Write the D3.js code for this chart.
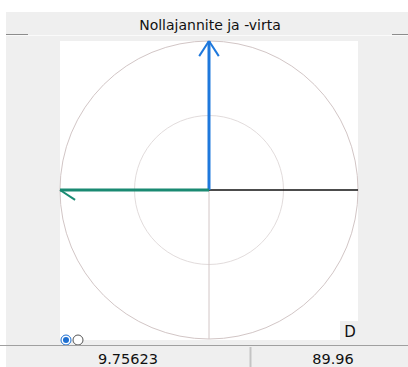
<!DOCTYPE html>
<html>
<head>
<meta charset="utf-8">
<script src="https://cdn.jsdelivr.net/npm/d3@7"></script>
<style>
  html, body { margin: 0; padding: 0; background: #fff; }
  svg { display: block; }
</style>
</head>
<body>
<svg id="chart" width="408" height="367"></svg>
<script>
let title = 'Nollajannite ja -virta';
// phasors: angle in degrees, magnitude as share of full scale
let phasor_names = ['U0', 'I0'];
let phasor_angles = [90, 180];
let phasor_mags = [1, 1];
let phasor_colors = ['#1e78dc', '#1a8a72'];
let ring_levels = [0.5, 1];
let readouts = ['9.75623', '89.96'];
let quadrant_label = 'D';

let panel_bg = '#efefef';
let center = {x: 209, y: 190};
let max_r = 149;

let svg = d3.select('#chart');

let r_scale = d3.scaleLinear()
  .domain([0, 1])
  .range([0, max_r]);

// gray panel
svg.append('rect')
  .attr('x', 6).attr('y', 12)
  .attr('width', 402).attr('height', 355)
  .attr('fill', panel_bg);

// title band separator
svg.append('line')
  .attr('x1', 6).attr('x2', 408)
  .attr('y1', 35.5).attr('y2', 35.5)
  .attr('stroke', '#fafafa');
[[6, 28], [392, 408]].forEach(s => {
  svg.append('line')
    .attr('x1', s[0]).attr('x2', s[1])
    .attr('y1', 34.5).attr('y2', 34.5)
    .attr('stroke', '#8c8c8c');
});

svg.append('text')
  .attr('x', 210)
  .attr('y', 30)
  .style('font-family', 'DejaVu Sans')
  .style('font-size', '14px')
  .style('text-anchor', 'middle')
  .style('fill', '#111')
  .text(title);

// white plot area
svg.append('rect')
  .attr('x', 60).attr('y', 41)
  .attr('width', 298).attr('height', 299)
  .attr('fill', '#fff');

let plot = svg.append('g')
  .attr('transform', `translate(${center.x},${center.y})`);

plot.selectAll('.ring')
  .data(ring_levels)
  .enter().append('circle')
  .attr('class', 'ring')
  .attr('r', d => r_scale(d))
  .attr('fill', 'none')
  .attr('stroke', (d, i) => i == ring_levels.length - 1 ? '#d2c6c6' : '#e2dcdc')
  .attr('stroke-width', 1);

// reference axis down
plot.append('line')
  .attr('x1', 0).attr('x2', 0)
  .attr('y1', 0).attr('y2', r_scale(1))
  .attr('stroke', '#d2c6c6');

// reference axis right
plot.append('line')
  .attr('x1', 0).attr('x2', r_scale(1))
  .attr('y1', 0).attr('y2', 0)
  .attr('stroke', '#111')
  .attr('stroke-width', 1.3);

// phasors
let phasors = phasor_names.map((n, i) => ({
  name: n, angle: phasor_angles[i], mag: phasor_mags[i], color: phasor_colors[i]
}));

let px = d => r_scale(d.mag) * Math.cos(d.angle * Math.PI / 180);
let py = d => -r_scale(d.mag) * Math.sin(d.angle * Math.PI / 180);

plot.selectAll('.phasor')
  .data(phasors)
  .enter().append('line')
  .attr('class', 'phasor')
  .attr('x1', 0).attr('y1', 0)
  .attr('x2', d => px(d)).attr('y2', d => py(d))
  .attr('stroke', d => d.color)
  .attr('stroke-width', 3);

// arrow heads: blue has both barbs, green only the lower one
let head_len = 18, head_ang = 33;
phasors.forEach((d, i) => {
  let tip = [px(d), py(d)];
  let back = (d.angle + 180) * Math.PI / 180;
  let sides = i == 0 ? [-1, 1] : [-1];
  sides.forEach(s => {
    let a = back + s * head_ang * Math.PI / 180;
    plot.append('line')
      .attr('x1', tip[0]).attr('y1', tip[1])
      .attr('x2', tip[0] + head_len * Math.cos(a))
      .attr('y2', tip[1] - head_len * Math.sin(a))
      .attr('stroke', d.color)
      .attr('stroke-width', 2);
  });
});

// quadrant label box
svg.append('rect')
  .attr('x', 340).attr('y', 321)
  .attr('width', 18).attr('height', 19)
  .attr('fill', panel_bg);
svg.append('text')
  .attr('x', 350).attr('y', 337)
  .style('font-family', 'DejaVu Sans')
  .style('font-size', '15px')
  .style('text-anchor', 'middle')
  .style('fill', '#111')
  .text(quadrant_label);

// radio buttons
svg.append('circle')
  .attr('cx', 66).attr('cy', 340).attr('r', 5)
  .attr('fill', '#fff').attr('stroke', '#1e6fd0').attr('stroke-width', 1);
svg.append('circle')
  .attr('cx', 66).attr('cy', 340).attr('r', 3)
  .attr('fill', '#1e6fd0');
svg.append('circle')
  .attr('cx', 78).attr('cy', 340).attr('r', 5)
  .attr('fill', '#fff').attr('stroke', '#555').attr('stroke-width', 1);

// bottom readouts
svg.append('line')
  .attr('x1', 0).attr('x2', 408)
  .attr('y1', 345.5).attr('y2', 345.5)
  .attr('stroke', '#a0a0a0');
svg.append('line')
  .attr('x1', 250.5).attr('x2', 250.5)
  .attr('y1', 347).attr('y2', 367)
  .attr('stroke', '#c4c4c4')
  .attr('stroke-width', 2);

svg.selectAll('.readout')
  .data(readouts)
  .enter().append('text')
  .attr('class', 'readout')
  .attr('x', (d, i) => i == 0 ? 128 : 333)
  .attr('y', 364)
  .style('font-family', 'DejaVu Sans')
  .style('font-size', '14.5px')
  .style('text-anchor', 'middle')
  .style('fill', '#111')
  .text(d => d);
</script>
</body>
</html>
